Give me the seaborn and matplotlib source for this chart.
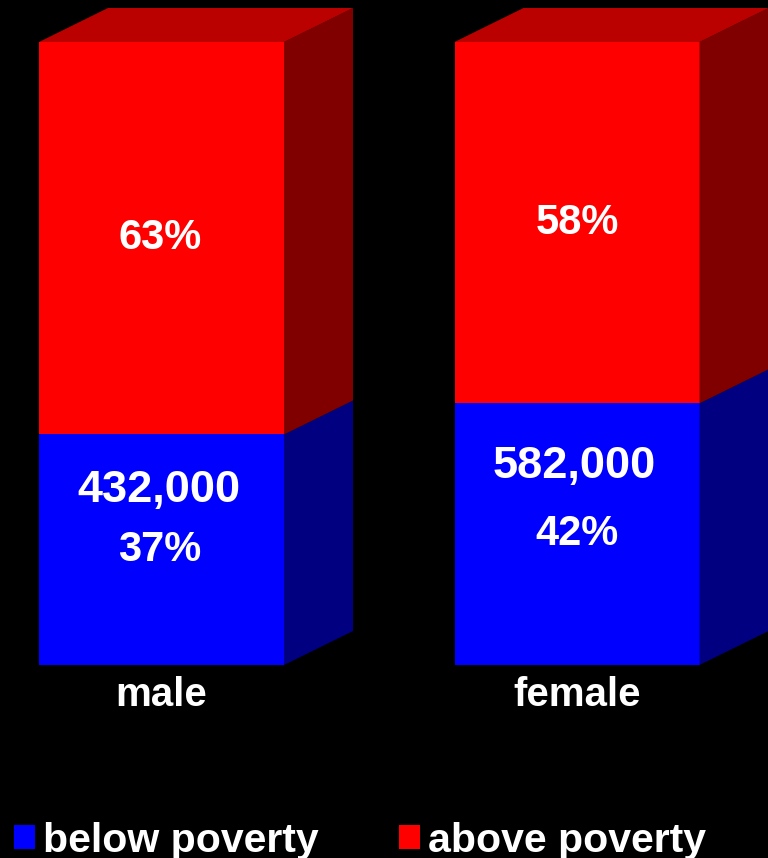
import matplotlib
matplotlib.use('Agg')
import matplotlib.pyplot as plt
from matplotlib.patches import Polygon, Patch
import seaborn as sns

# Data
groups = ['male', 'female']
below_pct = [37, 42]
above_pct = [63, 58]
below_count = ['432,000', '582,000']
series_names = ['below poverty', 'above poverty']

sns.set_theme(style='dark')
plt.rcParams['font.family'] = ['Liberation Sans', 'DejaVu Sans']
plt.rcParams['font.weight'] = 'bold'

fig = plt.figure(figsize=(7.68, 8.58), dpi=100, facecolor='black')
# axes bottom sits on the bar baseline so the tick labels fall right under the bars
ax = fig.add_axes([0, (858 - 665) / 858, 1, 665 / 858], facecolor='black')

totals = [b + a for b, a in zip(below_pct, above_pct)]
bar_w = 245 / 415.5
sns.barplot(x=groups, y=totals, color='#ff0000', saturation=1, width=bar_w, linewidth=0, ax=ax)
sns.barplot(x=groups, y=below_pct, color='#0000ff', saturation=1, width=bar_w, linewidth=0, ax=ax)

ax.set_xlim(-161.5 / 415.5, (768 - 161.5) / 415.5)
ax.set_ylim(0, 665 / 6.23)

# fake 3d sides
dx = 69 / 415.5
dy = 34 / 6.23
for i, (b, t) in enumerate(zip(below_pct, totals)):
    r = i + bar_w / 2
    l = i - bar_w / 2
    ax.add_patch(Polygon([(r, 0), (r + dx, dy), (r + dx, b + dy), (r, b)], fc='#000080', ec='none'))
    ax.add_patch(Polygon([(r, b), (r + dx, b + dy), (r + dx, t + dy), (r, t)], fc='#800000', ec='none'))
    ax.add_patch(Polygon([(l, t), (l + dx, t + dy), (r + dx, t + dy), (r, t)], fc='#bb0000', ec='none'))

# labels inside the bars
count_offsets = [(-2, 43), (-2, 49)]
pct_shift = [-1, 0]
for i in range(len(groups)):
    ax.annotate(f'{above_pct[i]}%', (i, below_pct[i] + above_pct[i] / 2), xytext=(pct_shift[i], 0),
                textcoords='offset points', ha='center', va='center', color='white', fontsize=30, fontweight='bold')
    ax.annotate(f'{below_pct[i]}%', (i, below_pct[i] / 2), xytext=(pct_shift[i], 0),
                textcoords='offset points', ha='center', va='center', color='white', fontsize=30, fontweight='bold')
    ax.annotate(below_count[i], (i, below_pct[i] / 2), xytext=count_offsets[i],
                textcoords='offset points', ha='center', va='center', color='white', fontsize=32.5, fontweight='bold')

ax.set_yticks([])
ax.set_xticks(range(len(groups)))
ax.set_xticklabels(groups, color='white', fontsize=29, fontweight='bold')
ax.tick_params(axis='x', length=0, pad=8)
ax.grid(False)
for s in ax.spines.values():
    s.set_visible(False)

handles = [Patch(fc='#0000ff', ec='none'), Patch(fc='#ff0000', ec='none')]
fig.legend(handles, series_names, ncols=2, loc='lower left', bbox_to_anchor=(0.0185, -0.002), frameon=False,
           fontsize=29.5, labelcolor='white', handlelength=0.51, handleheight=0.51, handletextpad=0.2,
           columnspacing=1.95, borderaxespad=0, borderpad=0)

fig.savefig('out.png', dpi=100, facecolor='black')
